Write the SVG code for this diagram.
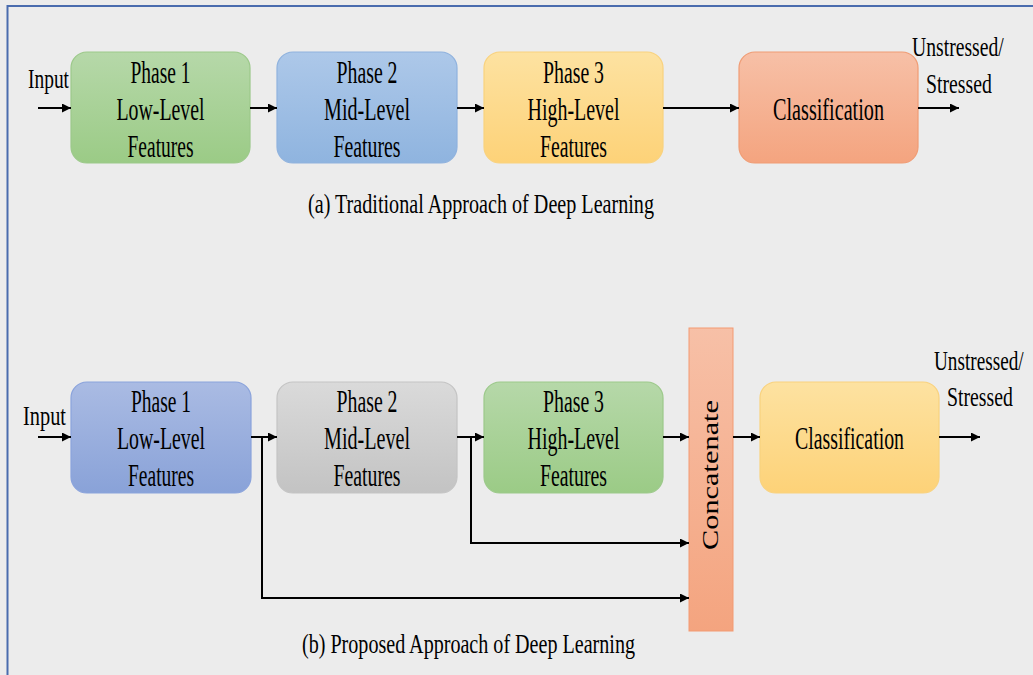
<svg xmlns="http://www.w3.org/2000/svg" width="1033" height="675" viewBox="0 0 1033 675">
  <defs>
    <linearGradient id="gGreen" x1="0" y1="0" x2="0" y2="1">
      <stop offset="0" stop-color="#b6d8a9"/><stop offset="1" stop-color="#9bcb86"/>
    </linearGradient>
    <linearGradient id="gSky" x1="0" y1="0" x2="0" y2="1">
      <stop offset="0" stop-color="#adc8e9"/><stop offset="1" stop-color="#8fb4df"/>
    </linearGradient>
    <linearGradient id="gYellow" x1="0" y1="0" x2="0" y2="1">
      <stop offset="0" stop-color="#fde2a1"/><stop offset="1" stop-color="#fdd278"/>
    </linearGradient>
    <linearGradient id="gSalmon" x1="0" y1="0" x2="0" y2="1">
      <stop offset="0" stop-color="#f7c0a7"/><stop offset="1" stop-color="#f4a47f"/>
    </linearGradient>
    <linearGradient id="gIndigo" x1="0" y1="0" x2="0" y2="1">
      <stop offset="0" stop-color="#aabbe3"/><stop offset="1" stop-color="#89a2d8"/>
    </linearGradient>
    <linearGradient id="gGray" x1="0" y1="0" x2="0" y2="1">
      <stop offset="0" stop-color="#dadada"/><stop offset="1" stop-color="#c3c3c3"/>
    </linearGradient>
    <marker id="arrow" viewBox="0 0 10 10" refX="10" refY="5" markerWidth="4.5" markerHeight="4.5" markerUnits="strokeWidth" orient="auto">
      <path d="M0,0 L10,5 L0,10 z" fill="#000"/>
    </marker>
  </defs>
  <style>
    text { font-family: "Liberation Serif", "Times New Roman", serif; fill: #000; }
    .lbl { font-size: 32px; text-anchor: middle; }
    .io { font-size: 28px; }
    .cap { font-size: 27px; }
    .wire { fill: none; stroke: #000; stroke-width: 2; }
    .box { stroke-width: 1.2; }
  </style>

  <!-- canvas -->
  <rect x="0" y="0" width="1033" height="675" fill="#ececec"/>
  <path d="M7.5,675 V6 H1033" fill="none" stroke="#4a6cae" stroke-width="2"/>

  <!-- (a) traditional pipeline -->
  <g id="a-input"><text class="io" x="28" y="88" textLength="41" lengthAdjust="spacingAndGlyphs">Input</text></g>
  <g id="a-phase1">
    <rect class="box" x="71" y="52" width="179" height="111" rx="16" fill="url(#gGreen)" stroke="#9cc98a"/>
    <text class="lbl" x="160.5" y="83" textLength="60" lengthAdjust="spacingAndGlyphs">Phase 1</text>
    <text class="lbl" x="160.5" y="120" textLength="88" lengthAdjust="spacingAndGlyphs">Low-Level</text>
    <text class="lbl" x="160.5" y="157" textLength="66" lengthAdjust="spacingAndGlyphs">Features</text>
  </g>
  <g id="a-phase2">
    <rect class="box" x="277" y="52" width="180" height="111" rx="16" fill="url(#gSky)" stroke="#8fb2de"/>
    <text class="lbl" x="367" y="83" textLength="61" lengthAdjust="spacingAndGlyphs">Phase 2</text>
    <text class="lbl" x="367" y="120" textLength="86" lengthAdjust="spacingAndGlyphs">Mid-Level</text>
    <text class="lbl" x="367" y="157" textLength="67" lengthAdjust="spacingAndGlyphs">Features</text>
  </g>
  <g id="a-phase3">
    <rect class="box" x="484" y="52" width="179" height="111" rx="16" fill="url(#gYellow)" stroke="#f9d27e"/>
    <text class="lbl" x="573.5" y="83" textLength="61" lengthAdjust="spacingAndGlyphs">Phase 3</text>
    <text class="lbl" x="573.5" y="120" textLength="92" lengthAdjust="spacingAndGlyphs">High-Level</text>
    <text class="lbl" x="573.5" y="157" textLength="67" lengthAdjust="spacingAndGlyphs">Features</text>
  </g>
  <g id="a-classification">
    <rect class="box" x="739" y="52" width="179" height="111" rx="16" fill="url(#gSalmon)" stroke="#f09c74"/>
    <text class="lbl" x="828.5" y="120" textLength="111" lengthAdjust="spacingAndGlyphs">Classification</text>
  </g>
  <g id="a-output">
    <text class="io" transform="translate(912,56) scale(0.7,1)" textLength="131" lengthAdjust="spacingAndGlyphs">Unstressed/</text>
    <text class="io" transform="translate(926,93) scale(0.7,1)" textLength="94" lengthAdjust="spacingAndGlyphs">Stressed</text>
  </g>
  <g id="a-caption"><text class="cap" x="308" y="213" textLength="346" lengthAdjust="spacingAndGlyphs">(a) Traditional Approach of Deep Learning</text></g>

  <!-- (b) proposed pipeline -->
  <g id="b-input"><text class="io" x="23" y="425" textLength="43" lengthAdjust="spacingAndGlyphs">Input</text></g>
  <g id="b-phase1">
    <rect class="box" x="71" y="382" width="180" height="111" rx="16" fill="url(#gIndigo)" stroke="#8aa3dc"/>
    <text class="lbl" x="161" y="412" textLength="60" lengthAdjust="spacingAndGlyphs">Phase 1</text>
    <text class="lbl" x="161" y="449" textLength="88" lengthAdjust="spacingAndGlyphs">Low-Level</text>
    <text class="lbl" x="161" y="486" textLength="66" lengthAdjust="spacingAndGlyphs">Features</text>
  </g>
  <g id="b-phase2">
    <rect class="box" x="277" y="382" width="180" height="111" rx="16" fill="url(#gGray)" stroke="#c4c4c4"/>
    <text class="lbl" x="367" y="412" textLength="61" lengthAdjust="spacingAndGlyphs">Phase 2</text>
    <text class="lbl" x="367" y="449" textLength="86" lengthAdjust="spacingAndGlyphs">Mid-Level</text>
    <text class="lbl" x="367" y="486" textLength="67" lengthAdjust="spacingAndGlyphs">Features</text>
  </g>
  <g id="b-phase3">
    <rect class="box" x="484" y="382" width="179" height="111" rx="16" fill="url(#gGreen)" stroke="#9cc98a"/>
    <text class="lbl" x="573.5" y="412" textLength="61" lengthAdjust="spacingAndGlyphs">Phase 3</text>
    <text class="lbl" x="573.5" y="449" textLength="92" lengthAdjust="spacingAndGlyphs">High-Level</text>
    <text class="lbl" x="573.5" y="486" textLength="67" lengthAdjust="spacingAndGlyphs">Features</text>
  </g>
  <g id="b-concatenate">
    <rect x="689" y="328" width="44" height="303" fill="url(#gSalmon)" stroke="#f39a72" stroke-width="1"/>
    <text class="lbl" transform="translate(718,475) scale(0.75,1) rotate(-90)" x="0" y="0" textLength="150" lengthAdjust="spacingAndGlyphs">Concatenate</text>
  </g>
  <g id="b-classification">
    <rect class="box" x="760" y="382" width="179" height="111" rx="16" fill="url(#gYellow)" stroke="#f9d27e"/>
    <text class="lbl" x="849.5" y="449" textLength="109" lengthAdjust="spacingAndGlyphs">Classification</text>
  </g>
  <g id="b-output">
    <text class="io" transform="translate(934,370) scale(0.7,1)" textLength="128" lengthAdjust="spacingAndGlyphs">Unstressed/</text>
    <text class="io" transform="translate(947,406) scale(0.7,1)" textLength="94" lengthAdjust="spacingAndGlyphs">Stressed</text>
  </g>
  <g id="b-caption"><text class="cap" x="302" y="653" textLength="333" lengthAdjust="spacingAndGlyphs">(b) Proposed Approach of Deep Learning</text></g>

  <!-- connectors -->
  <g id="connectors">
    <path class="wire" d="M38,108 H71" marker-end="url(#arrow)"/>
    <path class="wire" d="M250,108 H277" marker-end="url(#arrow)"/>
    <path class="wire" d="M457,108 H484" marker-end="url(#arrow)"/>
    <path class="wire" d="M663,108 H739" marker-end="url(#arrow)"/>
    <path class="wire" d="M918,108 H959" marker-end="url(#arrow)"/>

    <path class="wire" d="M38,437 H71" marker-end="url(#arrow)"/>
    <path class="wire" d="M251,437 H277" marker-end="url(#arrow)"/>
    <path class="wire" d="M457,437 H484" marker-end="url(#arrow)"/>
    <path class="wire" d="M663,437 H689" marker-end="url(#arrow)"/>
    <path class="wire" d="M733,437 H760" marker-end="url(#arrow)"/>
    <path class="wire" d="M939,437 H980" marker-end="url(#arrow)"/>
    <path class="wire" d="M262,437 V598 H689" marker-end="url(#arrow)"/>
    <path class="wire" d="M471,437 V543 H689" marker-end="url(#arrow)"/>
  </g>
</svg>
